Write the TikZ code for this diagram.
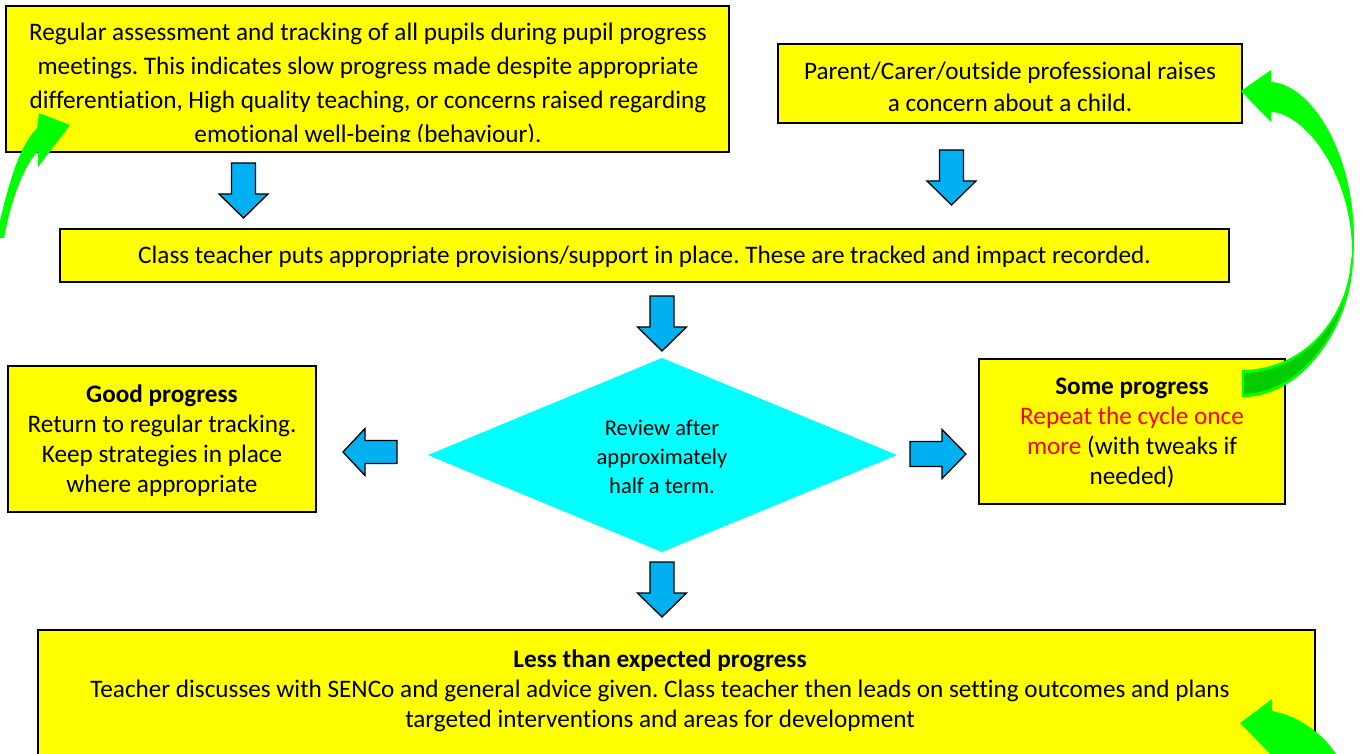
\documentclass[tikz,border=0pt]{standalone}
\usepackage{fontspec}
\setmainfont{Carlito}[Ligatures=NoCommon]
\definecolor{boxyellow}{HTML}{FFFF00}
\definecolor{arrowblue}{HTML}{00B0F0}
\definecolor{diacyan}{HTML}{00FFFF}
\definecolor{gbright}{HTML}{00FF00}
\definecolor{gdark}{HTML}{00CC00}
\definecolor{txtred}{HTML}{FF0000}
\frenchspacing
\begin{document}
\begin{tikzpicture}[x=1pt,y=-1pt,
  box/.style={draw=black, line width=1.3pt, fill=boxyellow, inner sep=0pt, outer sep=0pt},
  txt/.style={align=center, inner sep=0pt, text=black},
  barrow/.style={draw=black, line width=1.3pt, fill=arrowblue, line join=miter},
  garrow/.style={fill=gbright},
  downarr/.pic={\draw[barrow] (-12,0) -- (12,0) -- (12,31) -- (24.5,31) -- (0,55) -- (-24.5,31) -- (-12,31) -- cycle;},
  leftarr/.pic={\draw[barrow] (0,0) -- (22,-23.5) -- (22,-11.5) -- (54,-11.5) -- (54,11.5) -- (22,11.5) -- (22,23.5) -- cycle;},
  rightarr/.pic={\draw[barrow] (0,0) -- (-24,-24.5) -- (-24,-12.5) -- (-56,-12.5) -- (-56,12.5) -- (-24,12.5) -- (-24,24.5) -- cycle;}
]
\useasboundingbox (0,0) rectangle (1364,754);
\clip (0,0) rectangle (1364,754);

% boxes
\node[box, minimum width=723pt, minimum height=146pt] (b1) at (367.5,79) {};
\begin{scope}
  \clip (6,6) rectangle (729,141.5);
  \node[txt, font=\fontsize{25.2pt}{34pt}\selectfont] (t1) at (368,85) {Regular assessment and tracking of all pupils during pupil progress\\meetings. This indicates slow progress made despite appropriate\\differentiation, High quality teaching, or concerns raised regarding\\emotional well-being (behaviour).};
\end{scope}

\node[box, minimum width=464pt, minimum height=79pt] (b2) at (1010,83.5) {};
\node[txt, font=\fontsize{25.2pt}{32pt}\selectfont] (t2) at (1010,87) {Parent/Carer/outside professional raises\\a concern about a child.};

\node[box, minimum width=1169pt, minimum height=53pt] (b3) at (644.5,255.5) {};
\node[txt, font=\fontsize{25.2pt}{30pt}\selectfont] (t3) at (644.5,256.5) {Class teacher puts appropriate provisions/support in place. These are tracked and impact recorded.};

% diamond
\coordinate (dl) at (428,455);
\coordinate (dt) at (662,358);
\coordinate (dr) at (897,455);
\coordinate (db) at (662,552);
\fill[diacyan] (dl) -- (dt) -- (dr) -- (db) -- cycle;
\node[txt, font=\fontsize{22.5pt}{29pt}\selectfont] (dia) at (662,457) {Review after\\approximately\\half a term.};

\node[box, minimum width=308pt, minimum height=146pt] (good) at (162,439) {};
\node[txt, font=\fontsize{25.2pt}{30pt}\selectfont] (tgood) at (162,441) {\textbf{Good progress}\\Return to regular tracking.\\Keep strategies in place\\where appropriate};

\node[box, minimum width=306pt, minimum height=145pt] (some) at (1132,431.5) {};
\node[txt, font=\fontsize{25.2pt}{30pt}\selectfont] (tsome) at (1132,433) {\textbf{Some progress}\\\textcolor{txtred}{Repeat the cycle once}\\\textcolor{txtred}{more} (with tweaks if\\needed)};

\node[box, minimum width=1277pt, minimum height=150pt] (b4) at (676.5,705) {};
\node[txt, font=\fontsize{25.2pt}{30pt}\selectfont] (t4) at (660,690.5) {\textbf{Less than expected progress}\\Teacher discusses with SENCo and general advice given. Class teacher then leads on setting outcomes and plans\\targeted interventions and areas for development};

% blue block arrows
\pic (a1) at (243.5,163) {downarr};
\pic (a2) at (951.5,150) {downarr};
\pic (a3) at (662,296) {downarr};
\pic (a4) at (662,562) {downarr};
\pic (a5) at (343,452) {leftarr};
\pic (a6) at (966,454) {rightarr};

% green curved arrows
\fill[garrow] (-4,238) .. controls (6,195) and (16,150) .. (37,128) -- (39,113) -- (70,125) -- (38,167) -- (38,151) .. controls (25,165) and (12,195) .. (4,238) -- cycle;

\fill[garrow] (1271,82) .. controls (1310,84) and (1354,150) .. (1354,240) .. controls (1354,327) and (1304,397) .. (1242,397) -- (1242,370) .. controls (1303,370) and (1352,317) .. (1352,252) .. controls (1352,175) and (1305,113) .. (1271,112) -- (1271,122) -- (1241,91) -- (1271,70) -- cycle;
\filldraw[fill=gdark, draw=gbright, line width=2pt] (1243,372) .. controls (1303,372) and (1350,317) .. (1352,258) .. controls (1351,327) and (1302,394) .. (1243,395) -- cycle;

\fill[garrow] (1240,723) -- (1272,699) -- (1272,711) .. controls (1300,716) and (1325,735) .. (1340,760) -- (1290,775) -- (1272,756) -- cycle;
\end{tikzpicture}
\end{document}
